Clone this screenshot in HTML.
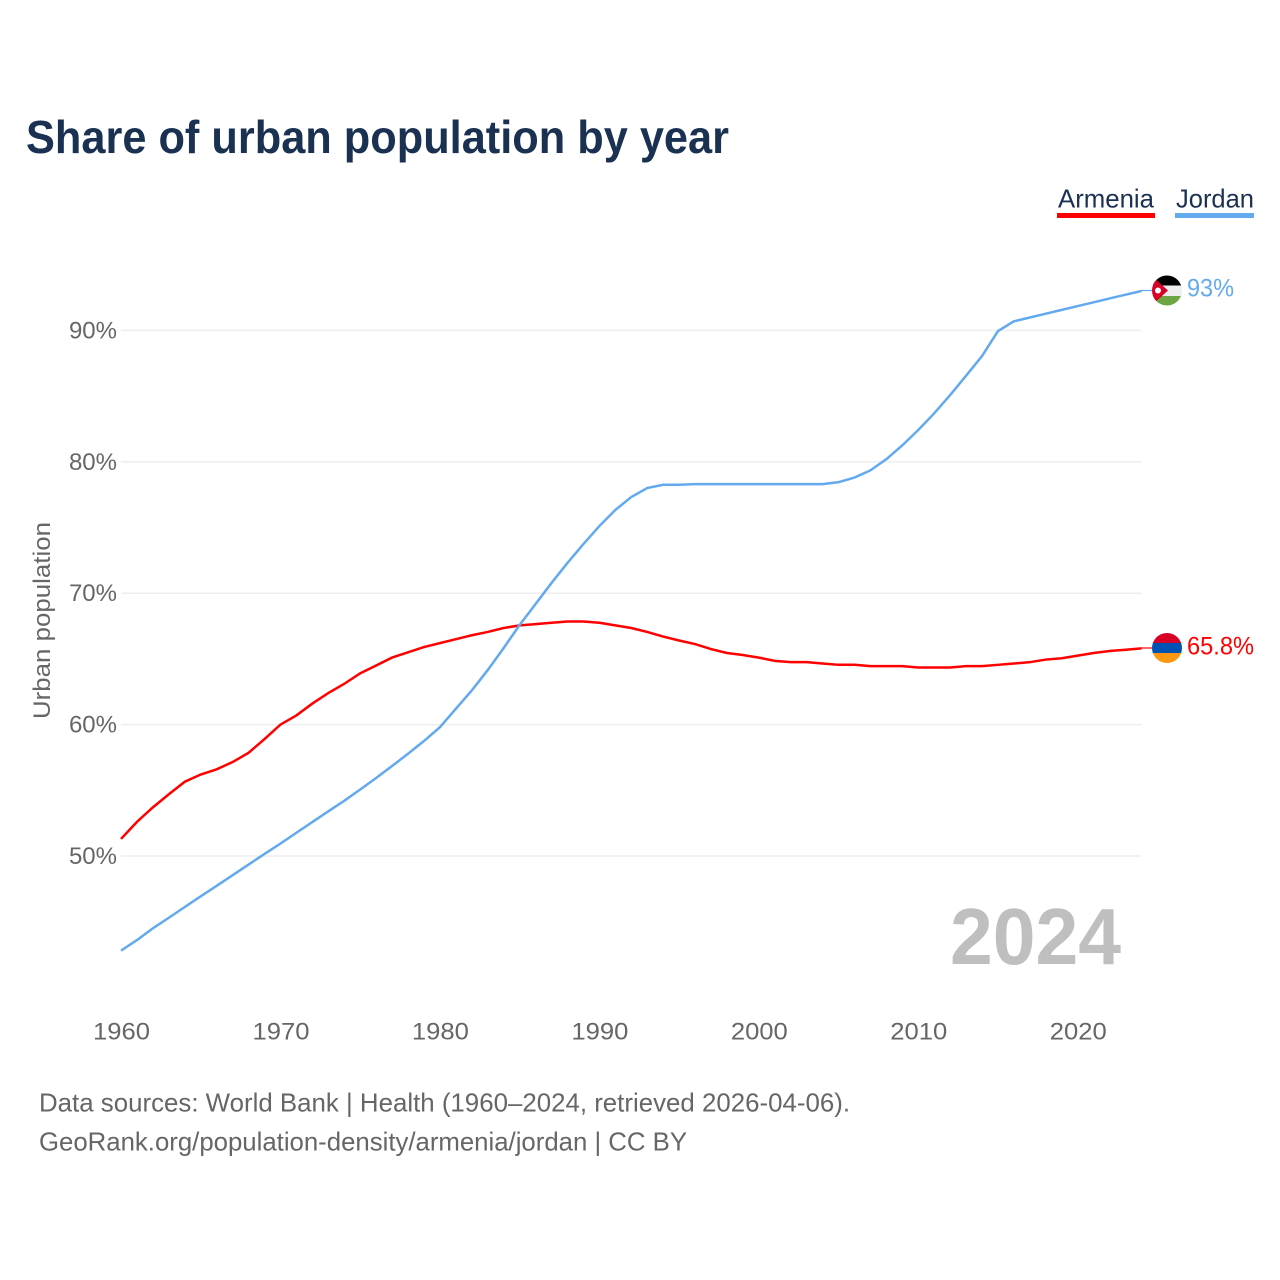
<!DOCTYPE html>
<html lang="en">
<head>
<meta charset="utf-8">
<title>Share of urban population by year</title>
<style>
html,body{margin:0;padding:0;background:#fff;}
svg{display:block;}
text{font-family:"Liberation Sans",sans-serif;}
</style>
</head>
<body>
<svg id="chart" width="1280" height="1280" viewBox="0 0 1280 1280" xmlns="http://www.w3.org/2000/svg">
  <rect width="1280" height="1280" fill="#fff"/>
  <text x="26" y="153" font-size="46" font-weight="700" fill="#1a3152" textLength="703" lengthAdjust="spacingAndGlyphs">Share of urban population by year</text>

  <g>
    <g>
      <text x="1058" y="207.5" font-size="26" fill="#1a3152" textLength="96" lengthAdjust="spacingAndGlyphs">Armenia</text>
      <rect x="1057" y="213" width="98" height="5" fill="#ff0000"/>
    </g>
    <g>
      <text x="1176" y="207.5" font-size="26" fill="#1a3152" textLength="78" lengthAdjust="spacingAndGlyphs">Jordan</text>
      <rect x="1175" y="213" width="79" height="5" fill="#63a9ee"/>
    </g>
  </g>

  <g id="grid"></g>
  <g id="yticks"></g>
  <g id="xticks"></g>
  <text transform="translate(50,719) rotate(-90)" x="0" y="0" font-size="24" fill="#666" textLength="197" lengthAdjust="spacingAndGlyphs">Urban population</text>

  <text x="950" y="964" font-size="80" font-weight="700" fill="#bfbfbf" textLength="171" lengthAdjust="spacingAndGlyphs">2024</text>

  <g id="series"></g>

  <defs>
    <clipPath id="clip-jordan"><circle cx="1167" cy="290.5" r="15"/></clipPath>
    <clipPath id="clip-armenia"><circle cx="1167" cy="648" r="15"/></clipPath>
  </defs>

  <g>
    <line x1="1141" y1="290.5" x2="1153" y2="290.5" stroke="#63a9ee" stroke-width="1.2"/>
    <g clip-path="url(#clip-jordan)">
      <rect x="1152" y="275" width="30" height="10.5" fill="#000"/>
      <rect x="1152" y="285.5" width="30" height="10.5" fill="#eee"/>
      <rect x="1152" y="296" width="30" height="10" fill="#6da544"/>
      <polygon points="1150,274 1168,290.5 1150,307" fill="#d80027"/>
      <circle cx="1158" cy="290.5" r="3" fill="#fff"/>
    </g>
    <text x="1187" y="296.5" font-size="25" fill="#63a9ee" textLength="47" lengthAdjust="spacingAndGlyphs">93%</text>
  </g>

  <g>
    <line x1="1141" y1="648" x2="1153" y2="648" stroke="#ff0000" stroke-width="1.2"/>
    <g clip-path="url(#clip-armenia)">
      <rect x="1152" y="633" width="30" height="10" fill="#d80027"/>
      <rect x="1152" y="643" width="30" height="10" fill="#0052b4"/>
      <rect x="1152" y="653" width="30" height="10" fill="#ff9811"/>
    </g>
    <text x="1187" y="654.5" font-size="25" fill="#ff0000" textLength="67" lengthAdjust="spacingAndGlyphs">65.8%</text>
  </g>

  <g>
    <text x="39" y="1111.5" font-size="26" fill="#666" textLength="811" lengthAdjust="spacingAndGlyphs">Data sources: World Bank | Health (1960–2024, retrieved 2026-04-06).</text>
    <text x="39" y="1150.5" font-size="26" fill="#666" textLength="648" lengthAdjust="spacingAndGlyphs">GeoRank.org/population-density/armenia/jordan | CC BY</text>
  </g>
</svg>
<script>
const startYear = 1960;
const armeniaValues = [51.3,52.6,53.7,54.7,55.65,56.2,56.6,57.15,57.85,58.9,60.0,60.7,61.6,62.4,63.1,63.9,64.5,65.1,65.5,65.9,66.2,66.5,66.8,67.05,67.35,67.55,67.65,67.75,67.85,67.85,67.75,67.55,67.35,67.05,66.7,66.4,66.13,65.75,65.45,65.3,65.1,64.85,64.75,64.75,64.65,64.55,64.55,64.45,64.45,64.45,64.35,64.35,64.35,64.45,64.45,64.55,64.65,64.75,64.95,65.05,65.25,65.45,65.6,65.7,65.8];
const jordanValues = [42.8,43.6,44.5,45.3,46.12,46.93,47.73,48.54,49.35,50.16,50.95,51.77,52.58,53.4,54.2,55.06,55.94,56.85,57.78,58.75,59.8,61.2,62.6,64.15,65.83,67.58,69.18,70.78,72.3,73.74,75.11,76.33,77.32,78.0,78.25,78.25,78.3,78.3,78.3,78.3,78.3,78.3,78.3,78.3,78.3,78.45,78.8,79.35,80.2,81.25,82.42,83.69,85.08,86.55,88.05,89.95,90.69,90.98,91.27,91.56,91.85,92.14,92.43,92.72,93.0];
const yTickValues = [50,60,70,80,90];
const xTickYears = [1960,1970,1980,1990,2000,2010,2020];

const NS = 'http://www.w3.org/2000/svg';
function xScale(year){ return 121 + (year - 1960) * (1141.5 - 121) / 64; }
function yScale(v){ return 856 - (v - 50) * 13.14; }

const gridG = document.getElementById('grid');
const yG = document.getElementById('yticks');
const xG = document.getElementById('xticks');
const seriesG = document.getElementById('series');

yTickValues.forEach(function(v){
  const ln = document.createElementNS(NS,'line');
  
  
  ln.setAttribute('x1', xScale(1960));
  ln.setAttribute('x2', xScale(2024));
  ln.setAttribute('y1', yScale(v));
  ln.setAttribute('y2', yScale(v));
  ln.setAttribute('stroke', '#eeeeee');
  ln.setAttribute('stroke-width', '1.5');
  gridG.appendChild(ln);

  const t = document.createElementNS(NS,'text');
  
  
  t.setAttribute('x', 117);
  t.setAttribute('y', yScale(v) + 8);
  t.setAttribute('text-anchor', 'end');
  t.setAttribute('font-size', '24');
  t.setAttribute('fill', '#666');
  t.textContent = v + '%';
  yG.appendChild(t);
});

xTickYears.forEach(function(y){
  const t = document.createElementNS(NS,'text');
  
  
  t.setAttribute('x', xScale(y) - 28);
  t.setAttribute('y', 1039.5);
  t.setAttribute('font-size', '24');
  t.setAttribute('fill', '#666');
  t.setAttribute('textLength', '57');
  t.setAttribute('lengthAdjust', 'spacingAndGlyphs');
  t.textContent = String(y);
  xG.appendChild(t);
});

function linePoints(values){
  return values.map(function(v,i){
    return xScale(startYear + i).toFixed(2) + ',' + yScale(v).toFixed(2);
  }).join(' ');
}

const armeniaLine = document.createElementNS(NS,'polyline');


armeniaLine.setAttribute('points', linePoints(armeniaValues));
armeniaLine.setAttribute('fill', 'none');
armeniaLine.setAttribute('stroke', '#ff0000');
armeniaLine.setAttribute('stroke-width', '2.5');
seriesG.appendChild(armeniaLine);

const jordanLine = document.createElementNS(NS,'polyline');


jordanLine.setAttribute('points', linePoints(jordanValues));
jordanLine.setAttribute('fill', 'none');
jordanLine.setAttribute('stroke', '#63a9ee');
jordanLine.setAttribute('stroke-width', '2.5');
seriesG.appendChild(jordanLine);
</script>
</body>
</html>
